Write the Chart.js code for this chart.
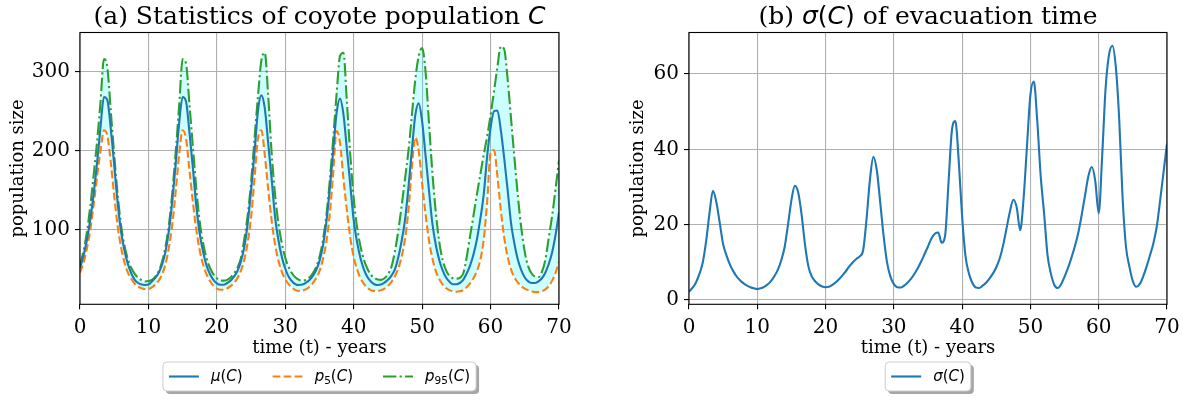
<!DOCTYPE html>
<html>
<head>
<meta charset="utf-8">
<script src="https://cdn.jsdelivr.net/npm/chart.js@4.4.1/dist/chart.umd.min.js"></script>
<style>
  html, body { margin: 0; padding: 0; background: #fff; }
  #wrap { position: relative; width: 1187px; height: 401px; overflow: hidden; }
  #left { position: absolute; left: 0; top: 0; }
  #right { position: absolute; left: 600px; top: 0; }
</style>
</head>
<body>
<div id="wrap">
  <canvas id="left" width="600" height="401"></canvas>
  <canvas id="right" width="587" height="401"></canvas>
</div>
<script>
// time grid, every half year from 0 to 70
const years = [];
for (let i = 0; i <= 140; i++) years.push(i / 2);

const xTicks = [0, 10, 20, 30, 40, 50, 60, 70];
const leftYTicks = [100, 200, 300];
const rightYTicks = [0, 20, 40, 60];

// mean of coyote population, mu(C)
const meanC = [
  52, 67, 87, 113, 146, 185, 230, 268, 264, 228,          // 0
  182, 135, 98, 74, 57, 45, 37, 33, 31, 30.5,             // 5
  31, 35, 39.5, 46, 56.5, 73, 99.5, 138, 185, 236,        // 10
  268, 262, 223, 178, 130, 95, 72, 55, 44, 37,            // 15
  32.5, 30.8, 30.8, 33, 36, 41, 48, 60, 78, 108,          // 20
  150, 198, 250, 270, 254, 210, 165, 117, 87, 66,         // 25
  51, 41, 35, 31.5, 30.5, 31, 33.3, 36.5, 41.7, 49,       // 30
  61, 80, 110, 152, 200, 248, 266, 246, 202, 157,         // 35
  112, 84, 64, 50, 40.5, 35, 31.5, 30.5, 31, 33.5,        // 40
  37, 42, 50, 65, 86, 113, 154, 201, 245, 260,            // 45
  237, 194, 150, 108, 81, 62, 49, 40, 34.5, 31.5,         // 50
  31.5, 33, 37, 45, 55, 69, 88, 114, 145, 193,            // 55
  229, 250, 251, 226, 190, 150, 108, 82, 62, 49,          // 60
  40, 35, 33, 33, 35, 39, 46, 57, 72, 94,                 // 65
  122                                                     // 70
];

// 5th percentile, p5(C)
const p5C = [
  46, 58, 76, 100, 132, 168, 200, 226, 219, 185,
  143, 105, 78, 59, 46, 38, 32, 28.5, 26.5, 25.5,
  25.5, 27.5, 31, 36, 44, 57, 78, 108, 150, 196,
  226, 215, 175, 135, 100, 74, 56, 44, 35.5, 29.5,
  26, 24.5, 24.5, 26, 29, 33, 39, 48, 62, 84,
  116, 165, 215, 226, 195, 152, 112, 82, 61, 47,
  37.5, 31.5, 27, 24, 23, 23.5, 25, 28, 32.5, 39,
  48, 63, 85, 120, 172, 225, 210, 165, 125, 90,
  66, 50, 39, 32, 27, 24, 23, 23, 24, 26,
  29.5, 34, 41, 51, 66, 89, 125, 180, 217, 200,
  158, 120, 87, 64, 48, 38, 31, 26.5, 24, 22.5,
  22, 22.5, 24, 27.5, 32.5, 39, 48, 62, 88, 135,
  197, 201, 168, 125, 90, 66, 50, 40, 33.5, 29,
  26, 24, 22.5, 21.5, 21.5, 22.5, 25, 29, 36, 46,
  60
];

// 95th percentile, p95(C)
const p95C = [
  55, 73, 97, 130, 170, 212, 262, 316, 305, 250,
  195, 145, 106, 80, 63, 52, 44.5, 39.5, 36.5, 35,
  35.5, 37, 41, 48, 60, 79, 107, 148, 200, 258,
  316, 310, 258, 205, 152, 110, 83, 64, 52, 44,
  39, 36.5, 36, 37, 40, 45, 52, 64, 88, 118,
  160, 215, 268, 314, 324, 270, 198, 145, 108, 83,
  65, 53, 45, 40, 37, 36, 37, 40, 45, 53,
  66, 87, 118, 162, 215, 272, 320, 324, 262, 195,
  140, 103, 79, 62, 51, 43.5, 39.5, 37.5, 37, 39,
  44, 53, 72, 98, 130, 165, 200, 245, 290, 320,
  330, 300, 235, 172, 122, 85, 62, 49, 42, 39,
  38.5, 39.5, 45, 65, 92, 118, 145, 170, 195, 218,
  245, 275, 306, 332, 328, 290, 240, 190, 142, 102,
  72, 54, 45, 41, 40.5, 47, 62, 90, 118, 152,
  188
];

// standard deviation, sigma(C)
const sigmaC = [
  2.2, 3.2, 4.6, 6.8, 9.8, 15.5, 23, 29, 26, 20.5,
  14.8, 11.8, 9.4, 7.6, 6.2, 5.2, 4.4, 3.8, 3.4, 3.1,
  2.9, 3.1, 3.5, 4.1, 5.0, 6.3, 8.0, 10.5, 14.0, 20.0,
  26.5, 30.3, 28.5, 22.5, 14.5, 8.8, 6.2, 4.9, 4.1, 3.6,
  3.4, 3.5, 4.0, 4.7, 5.6, 6.6, 7.7, 9.0, 10.0, 10.9,
  11.6, 13.2, 21.5, 32, 38, 34.5, 26, 17, 10, 6.2,
  4.2, 3.4, 3.3, 3.8, 4.6, 5.6, 6.9, 8.4, 10.2, 12.2,
  14.2, 16.3, 17.6, 17.9, 15.2, 17, 31, 45, 47.5, 37,
  22, 11.5, 7, 4.5, 3.3, 3.2, 3.8, 4.6, 5.7, 7.0,
  8.7, 11, 14.5, 19, 23.5, 26.6, 24.5, 18.5, 27, 41,
  54.5, 58, 47.5, 33, 23, 12, 7, 4, 3.2, 4.2,
  6.2, 8.5, 11.2, 14.2, 17.8, 22.5, 27.8, 33, 35.3, 31.5,
  23, 38, 56, 65, 67.5, 62, 48, 27, 14, 8.8,
  5.0, 3.5, 4.2, 6.2, 8.8, 11.8, 15.0, 19.5, 26.5, 34,
  41.5
];

const SERIF = '"DejaVu Serif", serif';
const SANS = '"DejaVu Sans", sans-serif';
const BLUE = '#1f77b4', ORANGE = '#ff7f0e', GREEN = '#2ca02c';

function pts(vals) {
  return years.map((t, i) => ({ x: t, y: vals[i] }));
}

function richWidth(ctx, parts) {
  let w = 0;
  parts.forEach(p => { ctx.font = p.f; w += ctx.measureText(p.t).width; });
  return w;
}
function drawRich(ctx, parts, x, y) {
  let cx = x;
  parts.forEach(p => {
    ctx.font = p.f;
    ctx.fillText(p.t, cx, y + (p.dy || 0));
    cx += ctx.measureText(p.t).width;
  });
}

// math-ish label pieces for the legend
function mathParts(fs, pieces) {
  return pieces.map(([t, kind]) => {
    if (kind === 'it') return { t, f: `italic ${fs}px ${SANS}` };
    if (kind === 'sub') return { t, f: `${(fs * 0.7).toFixed(1)}px ${SANS}`, dy: fs * 0.22 };
    return { t, f: `${fs}px ${SANS}` };
  });
}

function roundRect(ctx, x, y, w, h, r) {
  ctx.beginPath();
  ctx.moveTo(x + r, y);
  ctx.lineTo(x + w - r, y);
  ctx.quadraticCurveTo(x + w, y, x + w, y + r);
  ctx.lineTo(x + w, y + h - r);
  ctx.quadraticCurveTo(x + w, y + h, x + w - r, y + h);
  ctx.lineTo(x + r, y + h);
  ctx.quadraticCurveTo(x, y + h, x, y + h - r);
  ctx.lineTo(x, y + r);
  ctx.quadraticCurveTo(x, y, x + r, y);
  ctx.closePath();
}

function drawLegend(ctx, items, cx, top) {
  const fs = 15;
  const pad = 0.4 * fs, hl = 2 * fs, htp = 0.8 * fs, cs = 2 * fs, h = 29;
  const widths = items.map(it => richWidth(ctx, it.parts));
  let w = 2 * pad + cs * (items.length - 1);
  widths.forEach(tw => { w += hl + htp + tw; });
  const x0 = cx - w / 2;
  ctx.save();
  ctx.fillStyle = 'rgba(77,77,77,0.5)';
  roundRect(ctx, x0 + 3, top + 3, w, h, 4);
  ctx.fill();
  ctx.fillStyle = '#fff';
  roundRect(ctx, x0, top, w, h, 4);
  ctx.fill();
  ctx.strokeStyle = '#cccccc';
  ctx.lineWidth = 1;
  ctx.stroke();
  const cy = top + h / 2;
  let x = x0 + pad;
  items.forEach((it, i) => {
    ctx.beginPath();
    ctx.setLineDash(it.dash || []);
    ctx.strokeStyle = it.color;
    ctx.lineWidth = 2.1;
    ctx.moveTo(x, cy);
    ctx.lineTo(x + hl, cy);
    ctx.stroke();
    ctx.setLineDash([]);
    x += hl + htp;
    ctx.fillStyle = '#000';
    ctx.textBaseline = 'alphabetic';
    ctx.textAlign = 'left';
    drawRich(ctx, it.parts, x, cy + 0.31 * fs);
    x += widths[i] + cs;
  });
  ctx.restore();
}

function decorPlugin(cfg) {
  return {
    id: 'decor',
    afterDraw(chart) {
      const ctx = chart.ctx;
      const a = chart.chartArea;
      const midX = (a.left + a.right) / 2;
      ctx.save();
      // axes frame
      ctx.strokeStyle = '#000';
      ctx.lineWidth = 1.1;
      ctx.strokeRect(a.left, a.top, a.right - a.left, a.bottom - a.top);
      // title
      ctx.fillStyle = '#000';
      ctx.textAlign = 'left';
      ctx.textBaseline = 'alphabetic';
      const tw = richWidth(ctx, cfg.title);
      drawRich(ctx, cfg.title, midX - tw / 2, a.top - 8.5);
      // x label
      ctx.font = `18px ${SERIF}`;
      ctx.textAlign = 'center';
      ctx.textBaseline = 'middle';
      ctx.fillText('time (t) - years', midX, 348);
      // y label
      ctx.save();
      ctx.translate(cfg.yLabelX, (a.top + a.bottom) / 2);
      ctx.rotate(-Math.PI / 2);
      ctx.fillText('population size', 0, 0);
      ctx.restore();
      ctx.restore();
      drawLegend(ctx, cfg.legend, midX, 362);
    }
  };
}

function axisOptions(min, max, tickVals, isX, fixedSize) {
  return {
    type: 'linear',
    min: min,
    max: max,
    afterBuildTicks: s => { s.ticks = tickVals.map(v => ({ value: v })); },
    afterFit: s => { if (isX) s.height = fixedSize; else s.width = fixedSize; },
    grid: { color: '#b0b0b0', lineWidth: 1.1, tickColor: '#000', tickWidth: 1.1, tickLength: 5, drawTicks: true },
    border: { display: false },
    ticks: { font: { family: SERIF, size: 20 }, color: '#000', padding: isX ? 6 : 5, maxRotation: 0, autoSkip: false }
  };
}

const lineBase = { pointRadius: 0, borderWidth: 2.1, cubicInterpolationMode: 'monotone', fill: false };

new Chart(document.getElementById('left'), {
  type: 'line',
  data: {
    datasets: [
      Object.assign({}, lineBase, { label: 'mu(C)', data: pts(meanC), borderColor: BLUE }),
      Object.assign({}, lineBase, { label: 'p5(C)', data: pts(p5C), borderColor: ORANGE, borderDash: [7.7, 3.3] }),
      Object.assign({}, lineBase, { label: 'p95(C)', data: pts(p95C), borderColor: GREEN,
        borderDash: [13.3, 3.3, 2.1, 3.3], fill: { target: 1 }, backgroundColor: 'rgba(0,255,255,0.2)' })
    ]
  },
  options: {
    responsive: false,
    animation: false,
    events: [],
    layout: { padding: { left: 0, right: 41, top: 32.5, bottom: 56.7 } },
    plugins: { legend: { display: false }, tooltip: { enabled: false }, title: { display: false } },
    scales: {
      x: axisOptions(0, 70, xTicks, true, 40),
      y: axisOptions(6.1, 349.5, leftYTicks, false, 80)
    }
  },
  plugins: [decorPlugin({
    title: [
      { t: '(a) Statistics of coyote population ', f: `25px ${SERIF}` },
      { t: 'C', f: `italic 25px ${SANS}` }
    ],
    yLabelX: 18,
    legend: [
      { color: BLUE, parts: mathParts(15, [['μ', 'it'], ['(', 'rm'], ['C', 'it'], [')', 'rm']]) },
      { color: ORANGE, dash: [7.7, 3.3], parts: mathParts(15, [['p', 'it'], ['5', 'sub'], ['(', 'rm'], ['C', 'it'], [')', 'rm']]) },
      { color: GREEN, dash: [13.3, 3.3, 2.1, 3.3], parts: mathParts(15, [['p', 'it'], ['95', 'sub'], ['(', 'rm'], ['C', 'it'], [')', 'rm']]) }
    ]
  })]
});

new Chart(document.getElementById('right'), {
  type: 'line',
  data: {
    datasets: [
      Object.assign({}, lineBase, { label: 'sigma(C)', data: pts(sigmaC), borderColor: BLUE })
    ]
  },
  options: {
    responsive: false,
    animation: false,
    events: [],
    layout: { padding: { left: 0, right: 20, top: 32.5, bottom: 56.7 } },
    plugins: { legend: { display: false }, tooltip: { enabled: false }, title: { display: false } },
    scales: {
      x: axisOptions(0, 70, xTicks, true, 40),
      y: axisOptions(-1.14, 71.0, rightYTicks, false, 89)
    }
  },
  plugins: [decorPlugin({
    title: [
      { t: '(b) ', f: `25px ${SERIF}` },
      { t: 'σ', f: `italic 25px ${SANS}` },
      { t: '(', f: `25px ${SANS}` },
      { t: 'C', f: `italic 25px ${SANS}` },
      { t: ')', f: `25px ${SANS}` },
      { t: ' of evacuation time', f: `25px ${SERIF}` }
    ],
    yLabelX: 38,
    legend: [
      { color: BLUE, parts: mathParts(15, [['σ', 'it'], ['(', 'rm'], ['C', 'it'], [')', 'rm']]) }
    ]
  })]
});
</script>
</body>
</html>
